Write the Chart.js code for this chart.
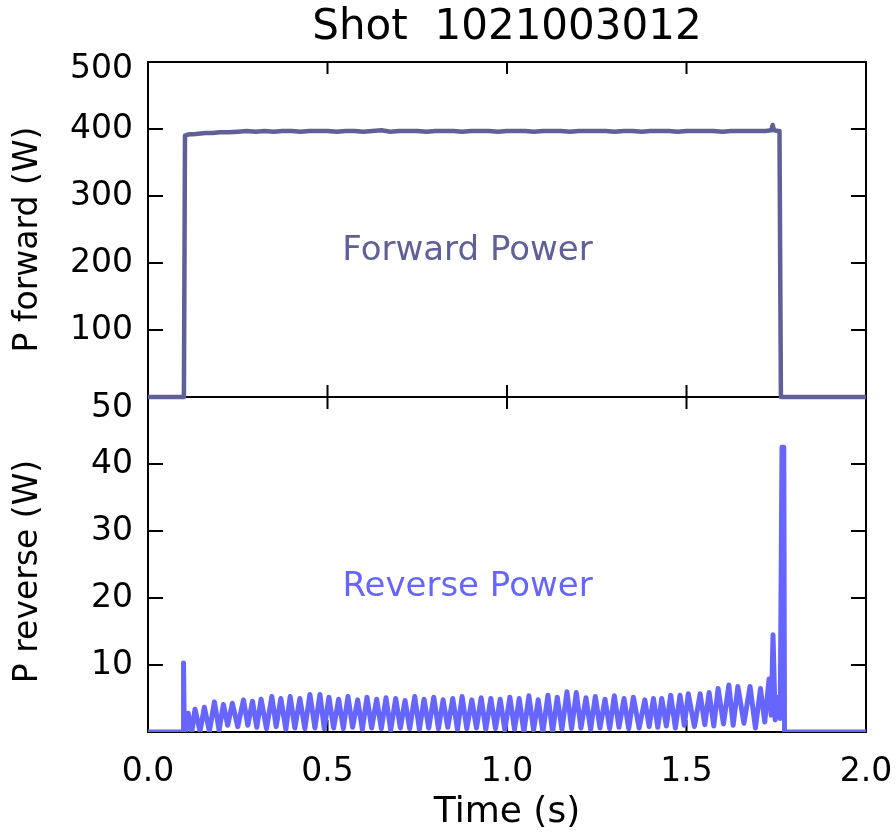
<!DOCTYPE html>
<html>
<head>
<meta charset="utf-8">
<title>Shot 1021003012</title>
<script src="https://cdn.jsdelivr.net/npm/chart.js@4.4.1/dist/chart.umd.min.js"></script>
<style>
  html, body { margin: 0; padding: 0; background: #fff; }
  #wrap { position: relative; width: 896px; height: 837px; }
</style>
</head>
<body>
<div id="wrap"><canvas id="myChart" width="896" height="837"></canvas></div>
<script>
const chartTitle = 'Shot  1021003012';
const timeTicks = [0, 0.5, 1.0, 1.5, 2.0];
const fwdTicks = [100, 200, 300, 400, 500];
const revTicks = [10, 20, 30, 40, 50];

// forward power (W) vs time (s)
const fwdTime = [0, 0.100, 0.103, 0.108, 0.115, 0.125, 0.140, 0.160, 0.180, 0.200,
  0.225, 0.250, 0.275, 0.300, 0.325, 0.350, 0.375, 0.400, 0.425, 0.450,
  0.475, 0.500, 0.525, 0.550, 0.575, 0.600, 0.625, 0.650, 0.675, 0.700,
  0.725, 0.750, 0.775, 0.800, 0.825, 0.850, 0.875, 0.900, 0.925, 0.950,
  0.975, 1.000, 1.025, 1.050, 1.075, 1.100, 1.125, 1.150, 1.175, 1.200,
  1.225, 1.250, 1.275, 1.300, 1.325, 1.350, 1.375, 1.400, 1.425, 1.450,
  1.475, 1.500, 1.525, 1.550, 1.575, 1.600, 1.625, 1.650, 1.675, 1.700,
  1.720, 1.736, 1.740, 1.744, 1.755, 1.759, 1.763, 2.000];
const fwdPower = [0, 0, 390, 391, 392, 392, 393, 394, 394, 395,
  395, 396, 397, 396, 397, 396, 397, 397, 396, 397,
  397, 397, 396, 397, 397, 396, 397, 398, 396, 397,
  397, 397, 396, 397, 397, 397, 396, 397, 397, 397,
  396, 397, 397, 397, 396, 397, 397, 397, 396, 397,
  397, 397, 397, 396, 397, 397, 396, 397, 397, 397,
  396, 397, 397, 397, 397, 396, 397, 397, 397, 397,
  397, 398, 406, 398, 397, 397, 0, 0];

// reverse power (W) vs time (s)
const revTime = [0, 0.098, 0.099, 0.101, 0.106, 0.112, 0.122, 0.131, 0.145, 0.157,
  0.171, 0.185, 0.198, 0.210, 0.222, 0.235, 0.250, 0.266, 0.278, 0.291,
  0.303, 0.315, 0.330, 0.345, 0.357, 0.370, 0.384, 0.396, 0.409, 0.423,
  0.437, 0.451, 0.465, 0.479, 0.491, 0.504,
  0.517, 0.531, 0.544, 0.557, 0.570, 0.584, 0.597, 0.610, 0.623, 0.637,
  0.650, 0.663, 0.676, 0.690, 0.703, 0.716, 0.729, 0.743, 0.756, 0.769,
  0.782, 0.796, 0.809, 0.822, 0.835, 0.849, 0.862, 0.875, 0.888, 0.902,
  0.915, 0.928, 0.941, 0.955, 0.968, 0.981, 0.994, 1.008, 1.021, 1.034,
  1.047, 1.061, 1.074, 1.087, 1.100, 1.114, 1.127, 1.140, 1.153, 1.167,
  1.180, 1.193, 1.206, 1.220, 1.233, 1.246, 1.259, 1.273, 1.286, 1.299,
  1.312, 1.326, 1.339, 1.352,
  1.368, 1.384, 1.396, 1.408, 1.420, 1.431, 1.444, 1.456, 1.469, 1.482,
  1.494, 1.505, 1.522, 1.538, 1.551, 1.563, 1.576, 1.588, 1.603, 1.618,
  1.630, 1.643, 1.660, 1.677, 1.692, 1.706, 1.718, 1.730, 1.736, 1.741,
  1.747, 1.755, 1.761, 1.766, 1.771, 1.773, 2.000];
const revPower = [0, 0, 10.3, 0.3, 0.2, 2.8, 0.0, 3.4, 0.1, 3.7,
  0.1, 4.5, 0.3, 4.1, 1.0, 4.3, 0.8, 4.8, 1.0, 4.6,
  0.7, 4.9, 0.5, 5.3, 0.8, 5.0, 0.4, 5.3, 0.6, 5.0,
  0.5, 5.6, 0.6, 5.6, 0.5, 5.2,
  0.6, 4.9, 0.5, 5.3, 0.7, 4.8, 0.4, 5.2, 0.6, 4.9,
  0.5, 5.1, 0.3, 5.0, 0.6, 4.7, 0.5, 5.3, 0.4, 4.9,
  0.6, 5.2, 0.5, 4.8, 0.7, 5.0, 0.4, 5.3, 0.5, 4.8,
  0.6, 5.1, 0.4, 5.0, 0.5, 4.9, 0.3, 5.2, 0.4, 5.0,
  0.0, 5.4, 0.3, 4.8, 0.0, 5.5, 0.0, 5.2, 0.4, 6.0,
  0.5, 5.9, 0.6, 5.1, 0.4, 5.3, 0.6, 4.9, 0.5, 5.4,
  0.7, 5.0, 0.5, 5.2,
  0.6, 4.8, 0.8, 5.0, 0.7, 5.0, 0.9, 5.5, 0.6, 5.5,
  1.0, 5.7, 0.8, 5.7, 1.1, 5.9, 0.9, 6.5, 1.2, 7.0,
  1.0, 6.8, 1.3, 6.8, 0.6, 6.5, 1.5, 7.9, 2.5, 14.5,
  1.8, 5.2, 2.0, 42.5, 42.5, 0, 0];

const fwdColor = '#5f6098';
const revColor = '#6666ff';
const fontName = 'DejaVu Sans';

function toPoints(xs, ys){
  const points = [];
  for(let i = 0; i < xs.length; i++){
    points.push({x: xs[i], y: ys[i]});
  }
  return points;
}

const framePlugin = {
  id: 'frame',
  beforeDatasetsDraw: function(chart){
    const ctx = chart.ctx;
    const area = chart.chartArea;
    const xScale = chart.scales.x;
    const yF = chart.scales.yF;
    const yR = chart.scales.yR;
    const mid = yF.getPixelForValue(0);

    ctx.save();
    ctx.strokeStyle = '#000';
    ctx.lineWidth = 2;
    ctx.strokeRect(area.left, area.top, area.right - area.left, area.bottom - area.top);
    ctx.beginPath();
    ctx.moveTo(area.left, mid);
    ctx.lineTo(area.right, mid);
    // inward x ticks on every panel edge
    for(let t of timeTicks){
      const px = xScale.getPixelForValue(t);
      ctx.moveTo(px, area.top); ctx.lineTo(px, area.top + 12);
      ctx.moveTo(px, mid - 12); ctx.lineTo(px, mid + 12);
      ctx.moveTo(px, area.bottom); ctx.lineTo(px, area.bottom - 12);
    }
    // inward y ticks, left and right
    const ys = fwdTicks.map(v => yF.getPixelForValue(v)).concat(revTicks.map(v => yR.getPixelForValue(v)));
    for(let py of ys){
      ctx.moveTo(area.left, py); ctx.lineTo(area.left + 15, py);
      ctx.moveTo(area.right, py); ctx.lineTo(area.right - 15, py);
    }
    ctx.stroke();
    ctx.restore();
  },
  afterDraw: function(chart){
    const ctx = chart.ctx;
    const area = chart.chartArea;
    const xScale = chart.scales.x;
    const yF = chart.scales.yF;
    const yR = chart.scales.yR;
    const mid = yF.getPixelForValue(0);

    ctx.save();
    ctx.fillStyle = '#000';
    ctx.font = '33px "' + fontName + '"';
    ctx.textAlign = 'right';
    ctx.textBaseline = 'middle';
    // the label on a panel's top edge sits a little lower
    for(let v of fwdTicks){
      const shift = v === 500 ? 7 : 0;
      ctx.fillText(String(v), area.left - 15, yF.getPixelForValue(v) + shift);
    }
    for(let v of revTicks){
      const shift = v === 50 ? 11 : 0;
      ctx.fillText(String(v), area.left - 15, yR.getPixelForValue(v) + shift);
    }

    // axis titles
    ctx.textAlign = 'center';
    ctx.save();
    ctx.translate(28, (area.top + mid) / 2 + 10);
    ctx.rotate(-Math.PI / 2);
    ctx.fillText('P forward (W)', 0, 0);
    ctx.restore();
    ctx.save();
    ctx.translate(28, (mid + area.bottom) / 2 + 7);
    ctx.rotate(-Math.PI / 2);
    ctx.fillText('P reverse (W)', 0, 0);
    ctx.restore();

    // title
    ctx.font = '42px "' + fontName + '"';
    ctx.fillText(chartTitle, (area.left + area.right) / 2, 28);

    // panel labels
    ctx.font = '34px "' + fontName + '"';
    ctx.fillStyle = fwdColor;
    ctx.fillText('Forward Power', xScale.getPixelForValue(0.89), yF.getPixelForValue(218));
    ctx.fillStyle = revColor;
    ctx.fillText('Reverse Power', xScale.getPixelForValue(0.89), yR.getPixelForValue(21.6));
    ctx.restore();
  }
};

const app = {
  initChart: function(){
    const thisApp = this;
    thisApp.ctx = document.getElementById('myChart').getContext('2d');
    // eslint-disable-next-line no-undef
    thisApp.chart = new Chart(thisApp.ctx, {
      type: 'line',
      data: {
        datasets: [{
          label: 'Forward Power',
          data: toPoints(fwdTime, fwdPower),
          yAxisID: 'yF',
          borderColor: fwdColor,
          borderWidth: 4.5,
          borderJoinStyle: 'round',
          pointRadius: 0,
          tension: 0,
          fill: false,
        },
        {
          label: 'Reverse Power',
          data: toPoints(revTime, revPower),
          yAxisID: 'yR',
          borderColor: revColor,
          borderWidth: 5,
          borderJoinStyle: 'round',
          pointRadius: 0,
          tension: 0,
          fill: false,
        }]
      },
      options: {
        responsive: false,
        animation: false,
        layout: {padding: {left: 148, right: 30, top: 62, bottom: 0}},
        plugins: {legend: {display: false}, tooltip: {enabled: false}},
        scales: {
          x: {
            type: 'linear',
            min: 0,
            max: 2,
            afterBuildTicks: function(scale){
              scale.ticks = timeTicks.map(v => ({value: v}));
            },
            afterFit: function(scale){
              scale.height = 105;
              scale.paddingLeft = 0;
              scale.paddingRight = 0;
            },
            grid: {display: false},
            border: {display: false},
            ticks: {
              autoSkip: false,
              maxRotation: 0,
              padding: 13,
              color: '#000',
              font: {family: fontName, size: 33},
              callback: function(value){ return Number(value).toFixed(1); }
            },
            title: {
              display: true,
              text: 'Time (s)',
              color: '#000',
              font: {family: fontName, size: 36},
              padding: {top: 0, bottom: 3}
            }
          },
          yF: {type: 'linear', min: -500, max: 500, display: false},
          yR: {type: 'linear', min: 0, max: 100, display: false}
        }
      },
      plugins: [framePlugin]
    });
  },

  init: function(){
    this.initChart();
  }
};

app.init();
</script>
</body>
</html>
